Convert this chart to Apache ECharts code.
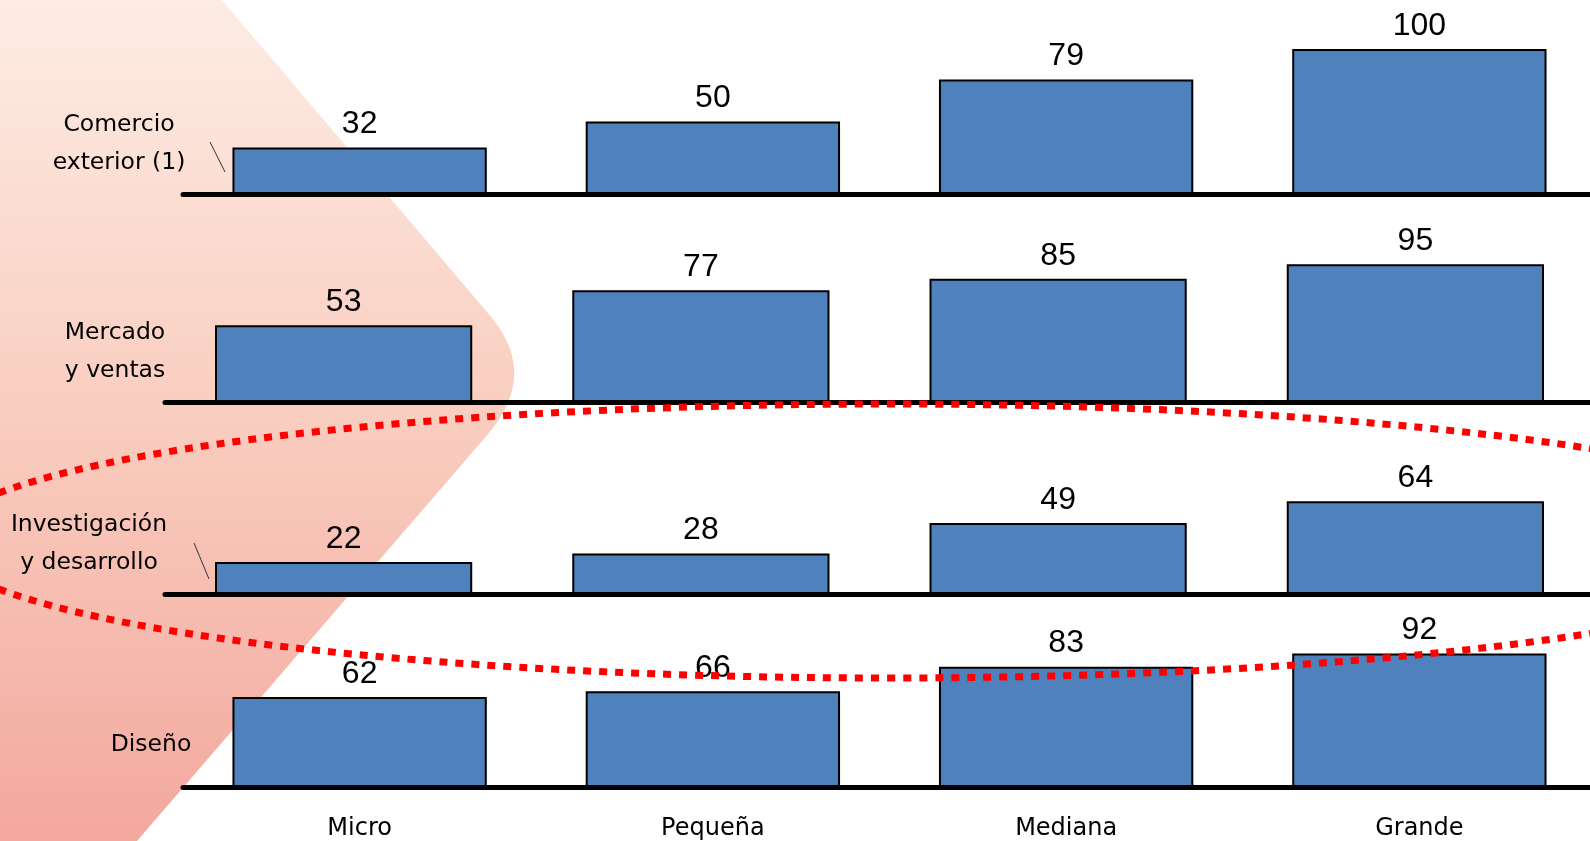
<!DOCTYPE html>
<html>
<head>
<meta charset="utf-8">
<script src="https://cdn.jsdelivr.net/npm/echarts@6/dist/echarts.min.js"></script>
<style>html,body{margin:0;padding:0;background:#fff;overflow:hidden;width:1590px;height:841px;}#main{width:1620px;height:841px;}</style>
</head>
<body>
<div id="main"></div>
<script>
var categories = ['Micro', 'Pequeña', 'Mediana', 'Grande'];
var comercioExterior = [32, 50, 79, 100];
var mercadoVentas = [53, 77, 85, 95];
var investigacionDesarrollo = [22, 28, 49, 64];
var diseno = [62, 66, 83, 92];
var rowLabels = ['Comercio\nexterior (1)', 'Mercado\ny ventas', 'Investigación\ny desarrollo', 'Diseño'];
var rowSeries = [comercioExterior, mercadoVentas, investigacionDesarrollo, diseno];

var grids = [
  {left: 183, width: 1413, top: 49, height: 145},
  {left: 165, width: 1429, top: 257, height: 145},
  {left: 165, width: 1429, top: 449, height: 145},
  {left: 183, width: 1413, top: 642, height: 145}
];
var rowLabelPos = [[119, 144], [115, 352], [89, 544], [151, 745]];

// decorative background shape (rounded arrow), corner sampled from a quadratic curve
var bgPoints = [[0, 0], [222, 0]];
(function () {
  var p0 = [489.5, 315], c = [540, 374], p1 = [487.2, 435];
  for (var k = 0; k <= 24; k++) {
    var t = k / 24, u = 1 - t;
    bgPoints.push([u * u * p0[0] + 2 * u * t * c[0] + t * t * p1[0],
                   u * u * p0[1] + 2 * u * t * c[1] + t * t * p1[1]]);
  }
})();
bgPoints.push([137, 841], [0, 841]);

var chart = echarts.init(document.getElementById('main'));
var xAxes = [], yAxes = [], series = [];
rowSeries.forEach(function (vals, i) {
  xAxes.push({
    type: 'category', gridIndex: i, data: categories,
    axisLine: {show: true, lineStyle: {color: '#000', width: 5, cap: 'round'}},
    axisTick: {show: false},
    axisLabel: {show: i === 3, color: '#000', fontSize: 24, fontFamily: 'DejaVu Sans', margin: 30},
    z: 5
  });
  yAxes.push({type: 'value', gridIndex: i, min: 0, max: 100, show: false, splitLine: {show: false}});
  series.push({
    type: 'bar', xAxisIndex: i, yAxisIndex: i, data: vals, barWidth: '72%',
    itemStyle: {color: '#4F81BD', borderColor: '#000', borderWidth: 2},
    label: {show: true, position: 'top', distance: 7, color: '#000', fontSize: 32, fontFamily: 'Liberation Sans'},
    z: 3
  });
});

var elements = [
  {
    type: 'polygon', z: -100, silent: true,
    shape: {points: bgPoints},
    style: {
      fill: {
        type: 'linear', x: 0, y: 0, x2: 0, y2: 1,
        colorStops: [
          {offset: 0, color: '#FDECE4'},
          {offset: 0.5, color: '#F9CDBF'},
          {offset: 1, color: '#F3A89E'}
        ]
      }
    }
  },
  {type: 'line', z: 50, shape: {x1: 210, y1: 142, x2: 225, y2: 172}, style: {stroke: '#333', lineWidth: 1}},
  {type: 'line', z: 50, shape: {x1: 194, y1: 543, x2: 209, y2: 579}, style: {stroke: '#333', lineWidth: 1}},
  {
    type: 'ellipse', z: 100, silent: true,
    shape: {cx: 889, cy: 541, rx: 950, ry: 137},
    style: {fill: null, stroke: '#FF0000', lineWidth: 7, lineDash: [8, 8]}
  }
];
rowLabels.forEach(function (t, i) {
  elements.push({
    type: 'text', z: 50, x: rowLabelPos[i][0], y: rowLabelPos[i][1],
    style: {text: t, fill: '#000', font: '23.5px "DejaVu Sans"', lineHeight: 38.5, align: 'center', verticalAlign: 'middle'}
  });
});

chart.setOption({
  animation: false,
  grid: grids,
  xAxis: xAxes,
  yAxis: yAxes,
  series: series,
  graphic: {elements: elements}
});
</script>
</body>
</html>
